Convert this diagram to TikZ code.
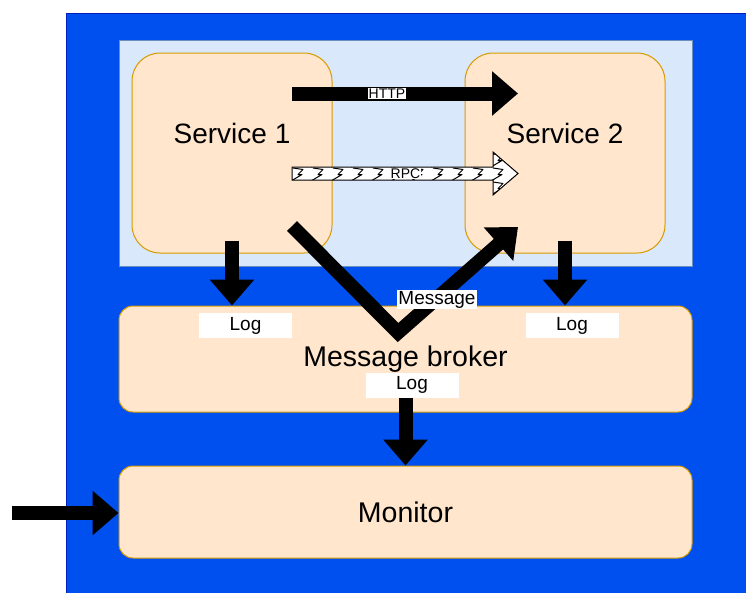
\documentclass[tikz,border=0pt]{standalone}
\usepackage{fontspec}
\setmainfont{Liberation Sans}
\usetikzlibrary{arrows.meta, positioning, calc}

\definecolor{bgblue}{HTML}{0050EF}
\definecolor{bgline}{HTML}{001DBC}
\definecolor{paleblue}{HTML}{DAE8FC}
\definecolor{paleline}{HTML}{6C8EBF}
\definecolor{peach}{HTML}{FFE6CC}
\definecolor{peachline}{HTML}{D79B00}

\begin{document}
\begin{tikzpicture}[x=1pt, y=-1pt,
    panel/.style={draw=paleline, fill=paleblue, line width=1pt, minimum width=573pt, minimum height=226pt},
    box/.style={draw=peachline, fill=peach, line width=1pt, rounded corners=14pt, minimum width=573pt, font=\fontsize{28.5}{30}\selectfont},
    service/.style={box, rounded corners=28pt, minimum width=200pt, minimum height=200pt},
    fat/.style={line width=14pt, -{Triangle[width=43pt, length=26pt]}},
    tag/.style={fill=white, inner sep=0pt, minimum width=93pt, minimum height=25pt, font=\fontsize{19}{20}\selectfont},
    small/.style={fill=white, inner sep=1pt, font=\fontsize{14}{15}\selectfont}]

    \useasboundingbox (0,0) rectangle (746,592);
    \clip (0,0) rectangle (746,592);

    % background and service zone
    \draw[bgline, fill=bgblue, line width=1pt] (66,13) rectangle (760,610);
    \node[panel] (zone) at (405.5,153) {};

    \node[service, label={[yshift=20pt, font=\fontsize{28}{30}\selectfont]center:Service 1}] (s1) at (232,153) {};
    \node[service, label={[yshift=20pt, font=\fontsize{28}{30}\selectfont]center:Service 2}] (s2) at (565,153) {};
    \node[box, minimum height=106pt] (broker) at (405.5,359) {Message broker};
    \node[box, minimum height=92pt] (monitor) at (405.5,512) {Monitor};

    % plain http call
    \coordinate (httpA) at (292,93.5);
    \coordinate (httpB) at (518,93.5);
    \draw[fat] (httpA) -- (httpB);

    % rpc call, hatched arrow
    \coordinate (rpcA) at (292,173.5);
    \coordinate (rpcB) at (518,173.5);
    \def\rpcpath{($(rpcA)+(0,-6.5)$) -- ($(rpcB)+(-25,-6.5)$) -- ($(rpcB)+(-25,-21.5)$) -- (rpcB)
        -- ($(rpcB)+(-25,21.5)$) -- ($(rpcB)+(-25,6.5)$) -- ($(rpcA)+(0,6.5)$) -- cycle}
    \begin{scope}
        \clip \rpcpath;
        \fill[white] (280,140) rectangle (530,200);
        \foreach \y in {154,168,182}
            \foreach \x in {293,313,...,533}
                \draw[line width=1pt, line join=round]
                    (\x,\y) -- ++(10,1.5) -- ++(-5,5) -- ++(4,0) -- ++(-11,6.5);
    \end{scope}
    \draw[line width=1pt, line join=miter] \rpcpath;

    % messages through the broker
    \coordinate (msgA) at (292,226);
    \coordinate (msgV) at (398,332.5);
    \coordinate (msgB) at (518,227);
    \draw[fat, line join=miter] (msgA) -- (msgV) -- (msgB);

    % logging
    \coordinate (s1out) at ([yshift=13pt]s1.south);
    \coordinate (s2out) at ([yshift=13pt]s2.south);
    \draw[fat] (s1out) -- (s1out |- broker.north);
    \draw[fat] (s2out) -- (s2out |- broker.north);
    \draw[fat] ([yshift=-36pt]broker.center) -- (monitor.north);

    \coordinate (feed) at (12,513);
    \draw[fat] (feed) -- (feed -| monitor.west);

    \node[small] (http) at (387,93.5) {HTTP};
    \node[small] (rpc) at (405.5,173.5) {RPC};
    \node[tag, minimum width=0pt, minimum height=0pt, inner sep=1pt] (msg) at (437,299.5) {Message};
    \node[tag] (logA) at (245.5,325.5) {Log};
    \node[tag] (logB) at (572,325.5) {Log};
    \node[tag] (logC) at (412,385) {Log};

\end{tikzpicture}
\end{document}
